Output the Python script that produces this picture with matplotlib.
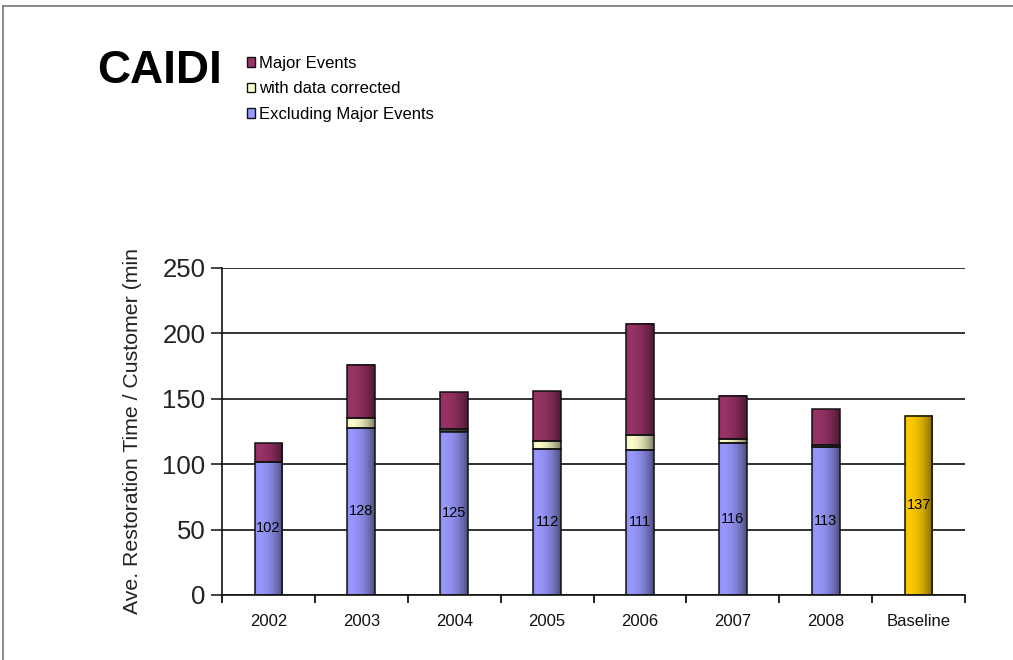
import numpy as np
import matplotlib
matplotlib.use("Agg")
import matplotlib.pyplot as plt
from matplotlib.colors import to_rgb
from matplotlib.transforms import Bbox

plt.rcParams['font.family'] = ['Liberation Sans', 'DejaVu Sans']

# CAIDI per year, split into stacked parts (minutes)
years = ["2002", "2003", "2004", "2005", "2006", "2007", "2008", "Baseline"]
excl_major = [102, 128, 125, 112, 111, 116, 113, 0]
data_corrected = [0, 7, 2, 6, 11, 3, 2, 0]
major_events = [14, 41, 28, 38, 85, 33, 27, 0]
baseline = [0, 0, 0, 0, 0, 0, 0, 137]

BLUE = "#9999FF"
CREAM = "#FFFFCC"
MAROON = "#993366"
GOLD = "#FFCC00"

W, H = 1013, 660
fig = plt.figure(figsize=(W / 100, H / 100), dpi=100)
ax = fig.add_axes([222 / W, 1 - 595 / H, (965 - 222) / W, (595 - 268) / H])

x = np.arange(len(years))
bw = 0.30
b1 = np.array(excl_major)
b2 = b1 + np.array(data_corrected)

c_excl = ax.bar(x, excl_major, bw, color=BLUE, label="Excluding Major Events", zorder=2)
c_corr = ax.bar(x, data_corrected, bw, bottom=b1, color=CREAM, label="with data corrected", zorder=2)
c_major = ax.bar(x, major_events, bw, bottom=b2, color=MAROON, label="Major Events", zorder=2)
c_base = ax.bar(x, baseline, bw, color=GOLD, zorder=2)


def shade(container, color):
    # horizontal shading: light on the left, darker toward the right edge
    rgb = np.array(to_rgb(color))
    t = np.linspace(0, 1, 64)
    f = 1 - 0.05 * np.exp(-(t / 0.08) ** 2) - 0.5 * t ** 2.2
    img = (rgb[None, :] * f[:, None])[None, :, :]
    for p in container.patches:
        h = p.get_height()
        if h <= 0:
            continue
        x0, y0, w = p.get_x(), p.get_y(), p.get_width()
        ax.imshow(img, extent=[x0, x0 + w, y0, y0 + h], aspect="auto",
                  interpolation="bilinear", zorder=2.5)


for cont, col in [(c_excl, BLUE), (c_corr, CREAM), (c_major, MAROON), (c_base, GOLD)]:
    shade(cont, col)

# outlines on top of the shading
for vals, bottom in [(excl_major, 0), (data_corrected, b1), (major_events, b2)]:
    v = np.array(vals)
    mask = v > 0
    ax.bar(x[mask], v[mask], bw, bottom=np.broadcast_to(bottom, v.shape)[mask],
           fill=False, edgecolor="#111111", linewidth=1.1, zorder=3)
ax.bar(x[-1:], baseline[-1:], bw, fill=False, edgecolor="#111111", linewidth=1.1, zorder=3)

# value labels in the middle of the lower segment
for i in range(len(years)):
    v = excl_major[i] if excl_major[i] > 0 else baseline[i]
    ax.text(x[i], v / 2, str(v), ha="center", va="center", fontsize=10.5, zorder=4)

ax.set_xlim(-0.5, len(years) - 0.5)
ax.set_ylim(0, 250)
ax.set_yticks(np.arange(0, 251, 50))
ax.set_xticks(x)
ax.set_xticklabels(years)
ax.set_xticks(np.arange(-0.5, len(years), 1), minor=True)
ax.tick_params(axis="x", which="major", length=0, labelsize=12, pad=14, colors="#111111")
ax.tick_params(axis="x", which="minor", length=6, width=1.2, direction="out")
ax.tick_params(axis="y", length=8, width=1.2, direction="out", labelsize=18.5,
               pad=4, colors="#222222")
ax.yaxis.grid(True, color="#111111", linewidth=1.2)
ax.set_axisbelow(True)
for s in ["top", "right"]:
    ax.spines[s].set_visible(False)
for s in ["left", "bottom"]:
    ax.spines[s].set_linewidth(1.2)
    ax.spines[s].set_color("#111111")

# axis title, cut off at the top like the original export
yl = fig.text(132 / W, 1 - 614 / H, "Ave. Restoration Time / Customer (min)",
              rotation=90, ha="center", va="bottom", fontsize=15.3, color="#222222")
yl.set_clip_box(Bbox([[0, 0], [W, H - 249]]))
yl.set_clip_on(True)

fig.text(97 / W, 1 - 71 / H, "CAIDI", fontsize=33, fontweight="bold",
         ha="left", va="center")

fig.legend(handles=[c_major, c_corr, c_excl],
           labels=["Major Events", "with data corrected", "Excluding Major Events"],
           loc="upper left", bbox_to_anchor=(247 / W, 1 - 56 / H), frameon=False,
           fontsize=12, handlelength=0.5, handleheight=0.5, handletextpad=0.2,
           labelspacing=0.62, borderpad=0, borderaxespad=0)
for h in fig.legends[0].legend_handles:
    h.set_edgecolor("#111111")
    h.set_linewidth(1.0)

# thin grey frame along the top and left of the sheet
fig.add_artist(plt.Line2D([3 / W, 3 / W], [0, 1 - 6 / H], color="#777777", linewidth=1.2))
fig.add_artist(plt.Line2D([3 / W, 1], [1 - 6 / H, 1 - 6 / H], color="#777777", linewidth=1.2))

fig.savefig("out.png", dpi=100)
